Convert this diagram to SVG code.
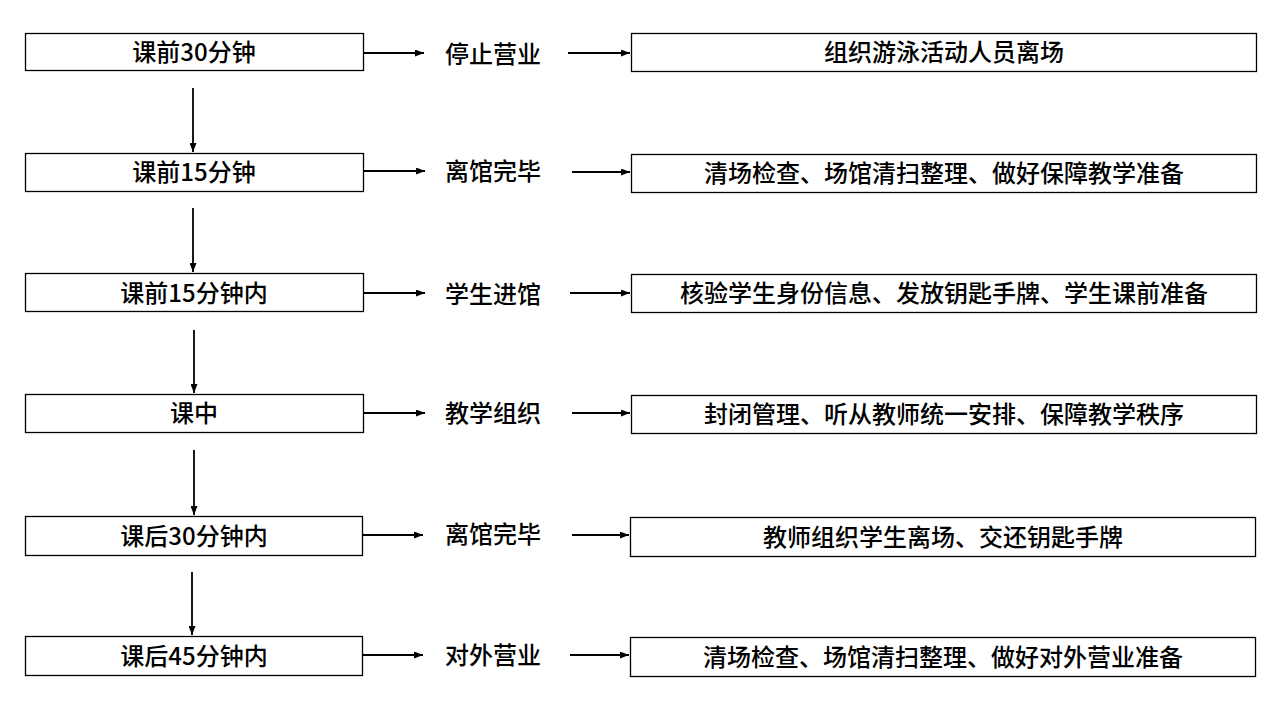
<svg xmlns="http://www.w3.org/2000/svg" width="1280" height="720" viewBox="0 0 1280 720">
<defs>
<marker id="ah" markerWidth="9" markerHeight="7" refX="9" refY="3.5" orient="auto" markerUnits="userSpaceOnUse">
<path d="M0,0 L9,3.5 L0,7 Z" fill="#000"/>
</marker>
<style>
.box{fill:#fff;stroke:#000;stroke-width:1.3}
.t{font-family:"Noto Sans CJK SC","Liberation Sans",sans-serif;font-size:24px;font-weight:500;fill:#000;text-anchor:middle}
.c{stroke:#000;stroke-width:1.8;fill:none;marker-end:url(#ah)}
</style>
</defs>
<rect width="1280" height="720" fill="#fff"/>
<g id="connectors">
<line class="c" x1="193" y1="88" x2="193" y2="152"/>
<line class="c" x1="193" y1="208" x2="193" y2="272"/>
<line class="c" x1="194" y1="330" x2="194" y2="393"/>
<line class="c" x1="194" y1="450" x2="194" y2="515"/>
<line class="c" x1="192" y1="572" x2="192" y2="635"/>
<line class="c" x1="363" y1="53" x2="424" y2="53"/>
<line class="c" x1="568" y1="53" x2="630" y2="53"/>
<line class="c" x1="363" y1="171" x2="425" y2="171"/>
<line class="c" x1="572" y1="172" x2="630" y2="172"/>
<line class="c" x1="363" y1="293" x2="425" y2="293"/>
<line class="c" x1="570" y1="293" x2="630" y2="293"/>
<line class="c" x1="363" y1="413" x2="425" y2="413"/>
<line class="c" x1="572" y1="413" x2="630" y2="413"/>
<line class="c" x1="362" y1="535" x2="423" y2="535"/>
<line class="c" x1="572" y1="535" x2="629" y2="535"/>
<line class="c" x1="362" y1="655" x2="423" y2="655"/>
<line class="c" x1="570" y1="655" x2="629" y2="655"/>
</g>
<g id="n1"><rect class="box" x="25.5" y="33.5" width="338" height="37"/><text class="t" x="194" y="61">课前30分钟</text></g>
<g id="m1"><text class="t" x="493" y="63">停止营业</text></g>
<g id="r1"><rect class="box" x="631.5" y="33.5" width="625" height="38"/><text class="t" x="944" y="61">组织游泳活动人员离场</text></g>
<g id="n2"><rect class="box" x="25.5" y="153.5" width="338" height="38"/><text class="t" x="194" y="181">课前15分钟</text></g>
<g id="m2"><text class="t" x="493" y="180">离馆完毕</text></g>
<g id="r2"><rect class="box" x="631.5" y="154.5" width="625" height="38"/><text class="t" x="944" y="182">清场检查、场馆清扫整理、做好保障教学准备</text></g>
<g id="n3"><rect class="box" x="25.5" y="273.5" width="338" height="38"/><text class="t" x="194" y="302">课前15分钟内</text></g>
<g id="m3"><text class="t" x="493" y="303">学生进馆</text></g>
<g id="r3"><rect class="box" x="631.5" y="274.5" width="625" height="38"/><text class="t" x="944" y="302">核验学生身份信息、发放钥匙手牌、学生课前准备</text></g>
<g id="n4"><rect class="box" x="25.5" y="394.5" width="338" height="38"/><text class="t" x="194" y="422">课中</text></g>
<g id="m4"><text class="t" x="493" y="422">教学组织</text></g>
<g id="r4"><rect class="box" x="631.5" y="395.5" width="625" height="38"/><text class="t" x="944" y="423">封闭管理、听从教师统一安排、保障教学秩序</text></g>
<g id="n5"><rect class="box" x="25.5" y="516.5" width="337" height="39"/><text class="t" x="194" y="545">课后30分钟内</text></g>
<g id="m5"><text class="t" x="493" y="543">离馆完毕</text></g>
<g id="r5"><rect class="box" x="630.5" y="517.5" width="625" height="39"/><text class="t" x="943" y="546">教师组织学生离场、交还钥匙手牌</text></g>
<g id="n6"><rect class="box" x="25.5" y="636.5" width="337" height="39"/><text class="t" x="194" y="665">课后45分钟内</text></g>
<g id="m6"><text class="t" x="493" y="664">对外营业</text></g>
<g id="r6"><rect class="box" x="630.5" y="637.5" width="625" height="39"/><text class="t" x="943" y="666">清场检查、场馆清扫整理、做好对外营业准备</text></g>
</svg>
